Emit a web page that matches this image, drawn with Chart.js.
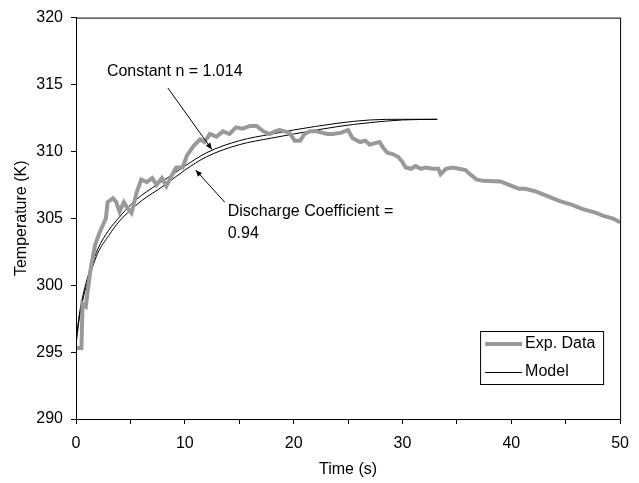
<!DOCTYPE html>
<html>
<head>
<meta charset="utf-8">
<script src="https://cdn.jsdelivr.net/npm/chart.js@4/dist/chart.umd.min.js"></script>
<style>
  html, body { margin: 0; padding: 0; background: #fff; }
  canvas { display: block; }
</style>
</head>
<body>
<canvas id="chart" width="639" height="483"></canvas>
<script>
// measured tank temperature
const expTime = [0, 0.5, 0.6, 0.9, 1.3, 1.75, 2.2, 2.75, 2.9, 3.4, 3.7, 4.0, 4.4, 4.7, 5.1, 5.6, 6.0, 6.5, 7.0, 7.4,
  7.9, 8.3, 8.6, 9.2, 9.8, 10.2, 10.8, 11.4, 11.8, 12.3, 12.9, 13.5, 14.1, 14.7, 15.3, 16.0, 16.6, 17.2, 17.8, 18.3,
  18.7, 19.6, 20.1, 20.6, 21.0, 21.5, 22.1, 22.6, 23.1, 23.6, 24.4, 25.0, 25.4, 26.1, 26.6, 27.0, 27.4, 27.9, 28.2, 28.6,
  29.1, 29.6, 30.0, 30.3, 30.8, 31.2, 31.7, 32.1, 32.8, 33.3, 33.5, 34.0, 34.6, 35.2, 35.8, 36.2, 36.8, 37.4, 39.0, 39.8,
  40.7, 41.3, 42.3, 43.5, 44.4, 45.6, 46.5, 47.8, 48.4, 49.3, 50.0];
const expTemp = [295.3, 295.3, 298.6, 298.4, 301.0, 303.0, 304.0, 305.0, 306.2, 306.5, 306.2, 305.5, 306.2, 305.8, 305.4, 307.0, 307.9, 307.7, 308.0, 307.5,
  308.0, 307.4, 307.9, 308.8, 308.8, 309.7, 310.4, 310.9, 310.7, 311.3, 311.1, 311.5, 311.3, 311.8, 311.7, 311.9, 311.9, 311.5, 311.3, 311.5,
  311.6, 311.4, 310.8, 310.8, 311.3, 311.5, 311.5, 311.4, 311.3, 311.3, 311.4, 311.6, 311.0, 310.7, 310.8, 310.5, 310.6, 310.7, 310.3, 309.9,
  309.8, 309.6, 309.2, 308.8, 308.7, 308.9, 308.7, 308.8, 308.7, 308.7, 308.3, 308.7, 308.8, 308.7, 308.6, 308.3, 307.9, 307.8, 307.75, 307.5,
  307.2, 307.2, 307.0, 306.6, 306.3, 306.0, 305.7, 305.4, 305.2, 305.0, 304.7];

// model runs
const modelTime = [0, 0.25, 0.5, 1, 1.5, 2, 3, 4, 5, 6, 8, 10, 12, 15, 18, 20, 24, 27, 30, 33.2];
const constantN = [295.8, 297.5, 298.7, 300.4, 301.6, 302.7, 304.1, 305.1, 306.0, 306.7, 307.8, 308.9, 309.9, 310.8, 311.3, 311.6, 312.1, 312.35, 312.4, 312.4];
const dischargeCoef = [295.5, 297.2, 298.4, 300.1, 301.3, 302.4, 303.7, 304.8, 305.6, 306.3, 307.4, 308.6, 309.6, 310.5, 311.0, 311.3, 311.85, 312.15, 312.35, 312.4];

const FONT = "'Liberation Sans', Arial, sans-serif";
const points = (xs, ys) => xs.map((x, i) => ({ x: x, y: ys[i] }));

// labels with arrows, in data units
const notes = [
  { lines: ["Constant n = 1.014"], x: 2.84, y: 316.0, from: [8.44, 314.74], to: [12.48, 310.15] },
  { lines: ["Discharge Coefficient =", "0.94"], x: 13.94, y: 305.48, from: [13.67, 306.2], to: [11.0, 308.6] }
];

const framePlugin = {
  id: "frame",
  afterDatasetsDraw(chart) {
    const { ctx, chartArea: a, scales } = chart;
    ctx.save();
    ctx.strokeStyle = "#000";
    ctx.lineWidth = 1;
    ctx.strokeRect(a.left + 0.5, a.top + 0.5, a.right - a.left, a.bottom - a.top);

    // annotations
    ctx.font = "16px " + FONT;
    ctx.fillStyle = "#000";
    ctx.textBaseline = "middle";
    notes.forEach(n => {
      const tx = scales.x.getPixelForValue(n.x);
      const ty = scales.y.getPixelForValue(n.y);
      n.lines.forEach((s, i) => ctx.fillText(s, tx, ty + i * 22));
      const x0 = scales.x.getPixelForValue(n.from[0]), y0 = scales.y.getPixelForValue(n.from[1]);
      const x1 = scales.x.getPixelForValue(n.to[0]), y1 = scales.y.getPixelForValue(n.to[1]);
      ctx.beginPath();
      ctx.moveTo(x0, y0);
      ctx.lineTo(x1, y1);
      ctx.stroke();
      const ang = Math.atan2(y1 - y0, x1 - x0);
      ctx.beginPath();
      ctx.moveTo(x1, y1);
      ctx.lineTo(x1 - 7 * Math.cos(ang - 0.4), y1 - 7 * Math.sin(ang - 0.4));
      ctx.lineTo(x1 - 7 * Math.cos(ang + 0.4), y1 - 7 * Math.sin(ang + 0.4));
      ctx.closePath();
      ctx.fill();
    });

    // legend box
    const lx = a.right - 140, ly = a.bottom - 88;
    ctx.fillStyle = "#fff";
    ctx.fillRect(lx, ly, 123, 53);
    ctx.strokeStyle = "#000";
    ctx.strokeRect(lx + 0.5, ly + 0.5, 123, 53);
    ctx.lineWidth = 4;
    ctx.strokeStyle = "#999";
    ctx.beginPath();
    ctx.moveTo(lx + 5, ly + 13);
    ctx.lineTo(lx + 42, ly + 13);
    ctx.stroke();
    ctx.lineWidth = 1;
    ctx.strokeStyle = "#000";
    ctx.beginPath();
    ctx.moveTo(lx + 5, ly + 41.5);
    ctx.lineTo(lx + 42, ly + 41.5);
    ctx.stroke();
    ctx.fillStyle = "#000";
    ctx.fillText(chart.data.datasets[0].label, lx + 45, ly + 13);
    ctx.fillText(chart.data.datasets[1].label, lx + 45, ly + 41);
    ctx.restore();
  }
};

new Chart(document.getElementById("chart").getContext("2d"), {
  type: "line",
  data: {
    datasets: [
      {
        label: "Exp. Data",
        data: points(expTime, expTemp),
        borderColor: "#999999",
        borderWidth: 4,
        pointRadius: 0,
        tension: 0
      },
      {
        label: "Model",
        data: points(modelTime, constantN),
        borderColor: "#000",
        borderWidth: 1,
        pointRadius: 0,
        cubicInterpolationMode: "monotone"
      },
      {
        label: "Model",
        data: points(modelTime, dischargeCoef),
        borderColor: "#000",
        borderWidth: 1,
        pointRadius: 0,
        cubicInterpolationMode: "monotone"
      }
    ]
  },
  options: {
    responsive: false,
    animation: false,
    devicePixelRatio: 1,
    layout: { padding: { top: 14, right: 18, left: 0, bottom: 0 } },
    plugins: { legend: { display: false }, tooltip: { enabled: false } },
    scales: {
      x: {
        type: "linear",
        min: 0,
        max: 50,
        afterFit(s) { s.height = 64; },
        ticks: {
          stepSize: 5,
          autoSkip: false,
          maxRotation: 0,
          padding: 10,
          color: "#000",
          font: { family: FONT, size: 16 },
          callback: v => (v % 10 === 0 ? v : "")
        },
        grid: { drawOnChartArea: false, tickLength: 5, color: "#000" },
        border: { color: "#000" },
        title: { display: true, text: "Time (s)", color: "#000", font: { family: FONT, size: 16 }, padding: { top: 2, bottom: 4 } }
      },
      y: {
        min: 290,
        max: 320,
        afterFit(s) { s.width = 76; },
        ticks: {
          stepSize: 5,
          padding: 8,
          color: "#000",
          font: { family: FONT, size: 16 }
        },
        grid: { drawOnChartArea: false, tickLength: 5, color: "#000" },
        border: { color: "#000" },
        title: { display: true, text: "Temperature (K)", color: "#000", font: { family: FONT, size: 16 }, padding: { top: 12, bottom: 0 } }
      }
    }
  },
  plugins: [framePlugin]
});
</script>
</body>
</html>
